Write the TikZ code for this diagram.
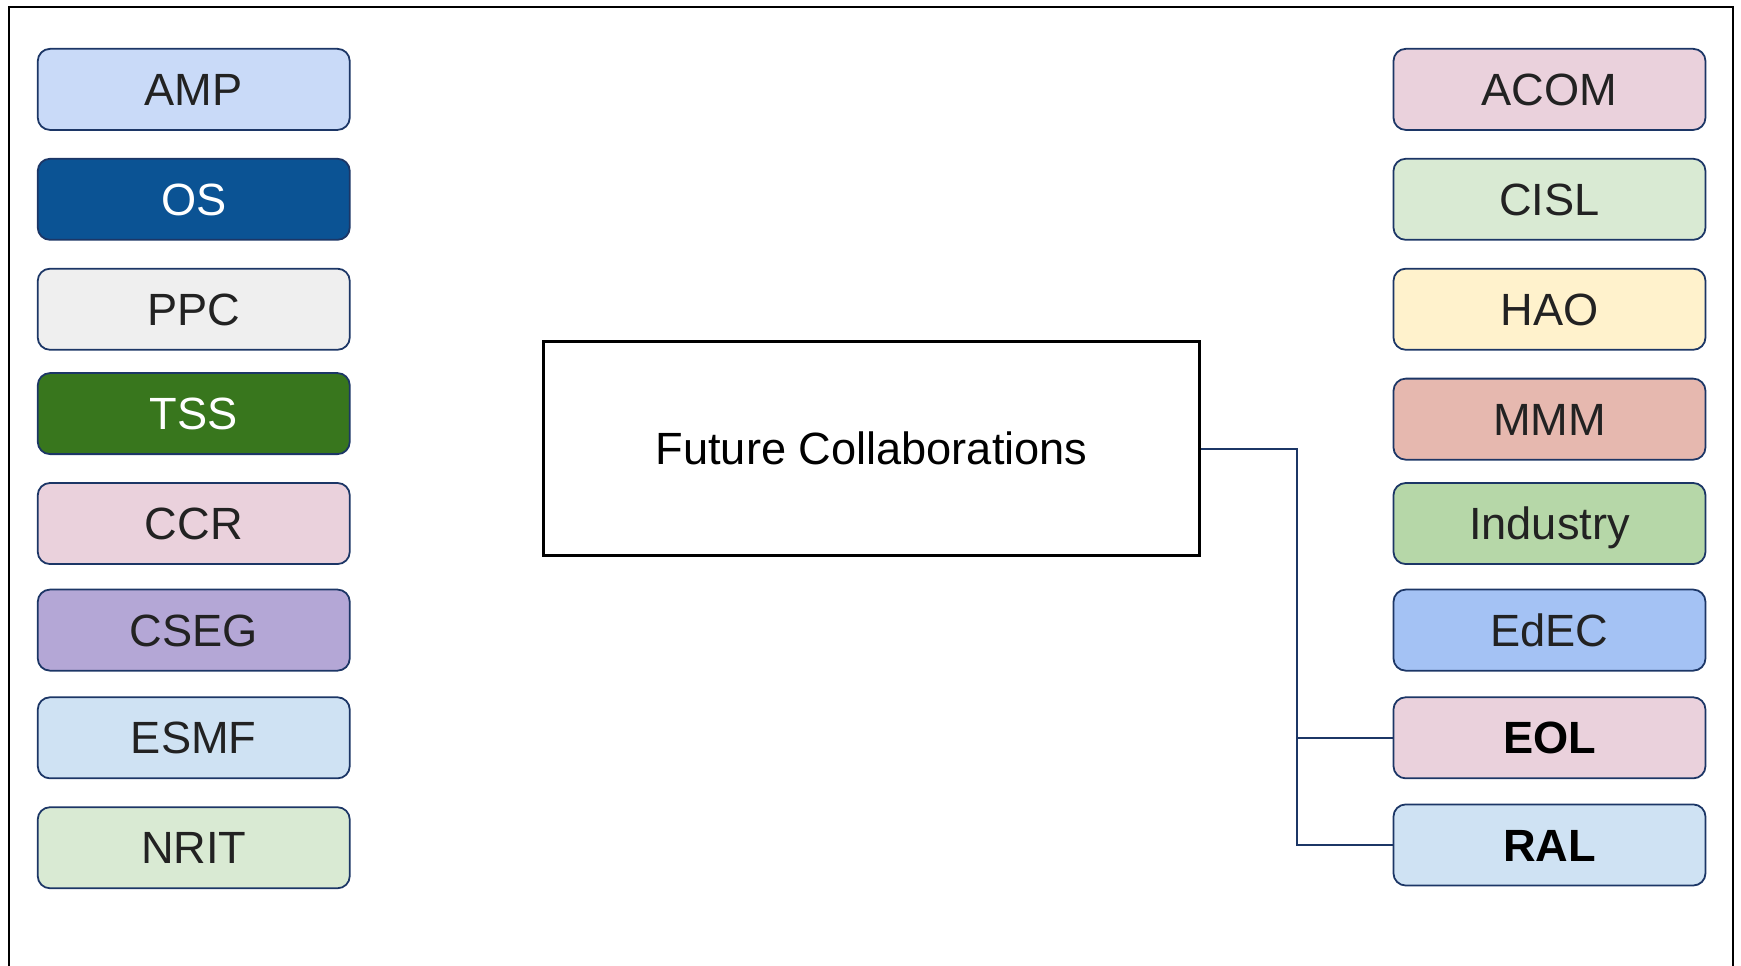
\documentclass[tikz,border=0pt]{standalone}
\usepackage{fontspec}
\setmainfont{Liberation Sans}
\usetikzlibrary{positioning}
\definecolor{navy}{HTML}{1C3666}
\definecolor{cAMP}{HTML}{C9DAF8}
\definecolor{cOS}{HTML}{0B5394}
\definecolor{cPPC}{HTML}{EFEFEF}
\definecolor{cTSS}{HTML}{38761D}
\definecolor{cPink}{HTML}{EAD1DC}
\definecolor{cCSEG}{HTML}{B4A7D6}
\definecolor{cLBlue}{HTML}{CFE2F3}
\definecolor{cLGreen}{HTML}{D9EAD3}
\definecolor{cHAO}{HTML}{FFF2CC}
\definecolor{cMMM}{HTML}{E6B8AF}
\definecolor{cInd}{HTML}{B6D7A8}
\definecolor{cEdEC}{HTML}{A4C2F4}
\definecolor{txt}{HTML}{222222}
\tikzset{
  unitbox/.style={draw=navy, line width=1.6pt, rounded corners=11pt,
    minimum width=281pt, minimum height=73pt, inner sep=0pt,
    text height=29pt, text depth=0pt,
    font=\fontsize{40.7}{47}\selectfont, text=txt, anchor=center},
  boldbox/.style={unitbox, font=\fontsize{40.7}{47}\selectfont\bfseries, text=black},
  conn/.style={draw=navy, line width=1.7pt},
}
\begin{document}
\begin{tikzpicture}[x=1pt,y=-1pt]
\useasboundingbox (0,0) rectangle (1568,870);
\draw[line width=2pt, black] (8,900) -- (8,6) -- (1561,6) -- (1561,900);
% left column
\node[unitbox, fill=cAMP] (amp) at (174.5,80.5) {AMP};
\node[unitbox, fill=cOS, text=white] (os) at (174.5,179.5) {OS};
\node[unitbox, fill=cPPC] (ppc) at (174.5,278.5) {PPC};
\node[unitbox, fill=cTSS, text=white] (tss) at (174.5,372.5) {TSS};
\node[unitbox, fill=cPink] (ccr) at (174.5,471.5) {CCR};
\node[unitbox, fill=cCSEG] (cseg) at (174.5,567.5) {CSEG};
\node[unitbox, fill=cLBlue] (esmf) at (174.5,664.5) {ESMF};
\node[unitbox, fill=cLGreen] (nrit) at (174.5,763.5) {NRIT};
% right column
\node[unitbox, fill=cPink] (acom) at (1395.5,80.5) {ACOM};
\node[unitbox, fill=cLGreen] (cisl) at (1395.5,179.5) {CISL};
\node[unitbox, fill=cHAO] (hao) at (1395.5,278.5) {HAO};
\node[unitbox, fill=cMMM] (mmm) at (1395.5,377.5) {MMM};
\node[unitbox, fill=cInd] (ind) at (1395.5,471.5) {Industry};
\node[unitbox, fill=cEdEC] (edec) at (1395.5,567.5) {EdEC};
\node[boldbox, fill=cPink] (eol) at (1395.5,664.5) {EOL};
\node[boldbox, fill=cLBlue] (ral) at (1395.5,761) {RAL};
% center
\node[draw=black, line width=2.6pt, minimum width=591pt, minimum height=193pt, inner sep=0pt,
  text height=29pt, text depth=0pt,
  font=\fontsize{40.7}{47}\selectfont, text=black] (fc) at (785,404) {Future Collaborations};
\coordinate (j) at (1168,404);
\draw[conn] (fc.east) -- (j) |- (eol.west);
\draw[conn] (j) |- (ral.west);
\end{tikzpicture}
\end{document}
